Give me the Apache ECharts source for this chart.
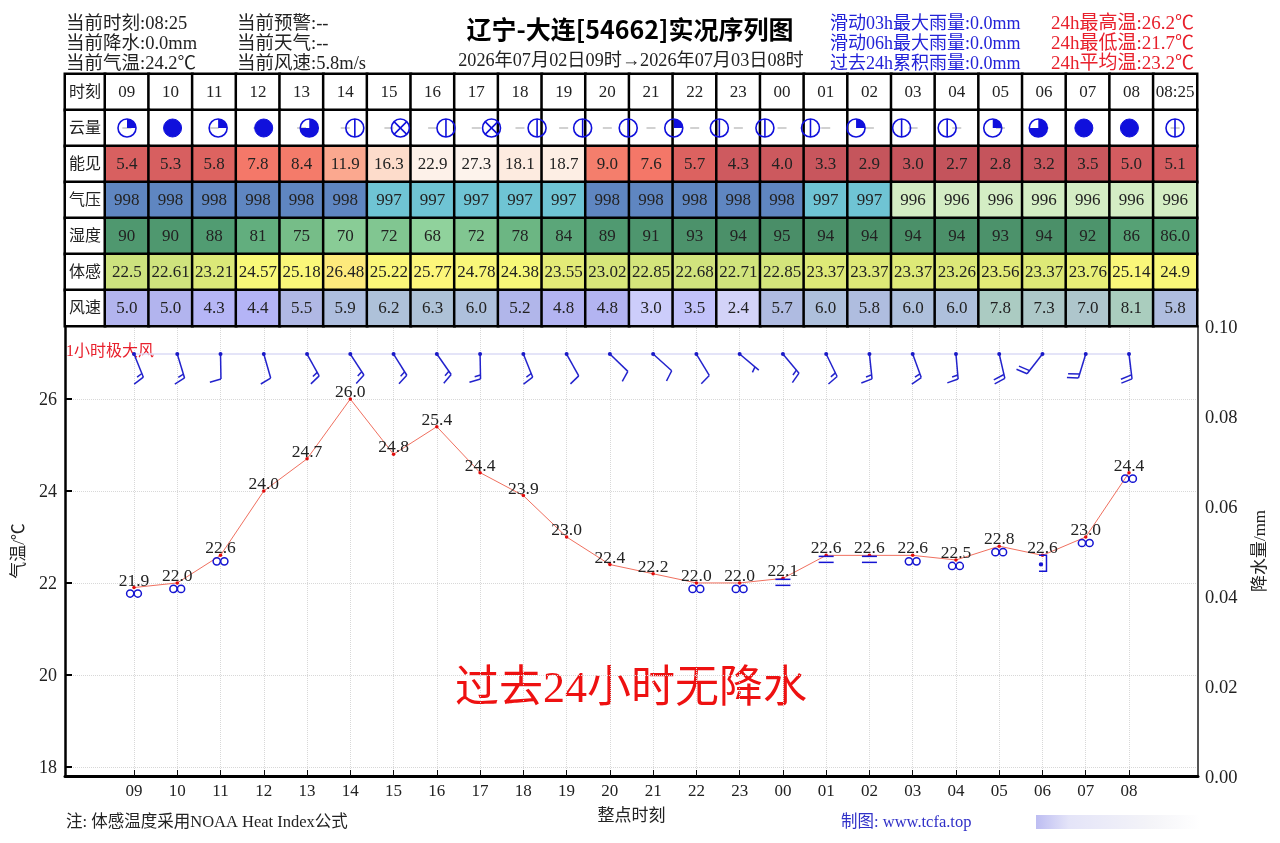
<!DOCTYPE html>
<html>
<head>
<meta charset="utf-8">
<title>辽宁-大连[54662]实况序列图</title>
<script src="https://cdn.jsdelivr.net/npm/echarts@6/dist/echarts.min.js"></script>
<style>html,body{margin:0;padding:0;background:#fff}#chart{width:1280px;height:843px}</style>
</head>
<body>
<div id="chart"></div>
<script>
// Hourly observation series for the station
const hours = ['09','10','11','12','13','14','15','16','17','18','19','20','21','22','23','00','01','02','03','04','05','06','07','08'];
const latestTime = '08:25';
const temperature = [21.9,22.0,22.6,24.0,24.7,26.0,24.8,25.4,24.4,23.9,23.0,22.4,22.2,22.0,22.0,22.1,22.6,22.6,22.6,22.5,22.8,22.6,23.0,24.4];
const rainfall = [0,0,0,0,0,0,0,0,0,0,0,0,0,0,0,0,0,0,0,0,0,0,0,0];
// Last entry of each table row is the latest reading
const visibility = [5.4,5.3,5.8,7.8,8.4,11.9,16.3,22.9,27.3,18.1,18.7,9.0,7.6,5.7,4.3,4.0,3.3,2.9,3.0,2.7,2.8,3.2,3.5,5.0,5.1];
const pressure = [998,998,998,998,998,998,997,997,997,997,997,998,998,998,998,998,997,997,996,996,996,996,996,996,996];
const humidity = [90,90,88,81,75,70,72,68,72,78,84,89,91,93,94,95,94,94,94,94,93,94,92,86,86];
const feelsLike = [22.5,22.61,23.21,24.57,25.18,26.48,25.22,25.77,24.78,24.38,23.55,23.02,22.85,22.68,22.71,22.85,23.37,23.37,23.37,23.26,23.56,23.37,23.76,25.14,24.9];
const windSpeed = [5.0,5.0,4.3,4.4,5.5,5.9,6.2,6.3,6.0,5.2,4.8,4.8,3.0,3.5,2.4,5.7,6.0,5.8,6.0,6.0,7.8,7.3,7.0,8.1,5.8];
// Bearing of the wind staff from its station dot, degrees clockwise from north
const windBearing = [158,163,179,164,151,147,148,145,179,158,151,134,132,149,130,140,154,174,160,175,167,218,197,173];
const cloudCover = ['quarter','full','quarter','full','most','half','cross','half','cross','half','half','half','quarter','half','half','half','quarter','half','half','quarter','most','full','full','half'];
const weather = ['ring','ring','ring',null,null,null,null,null,null,null,null,null,null,'ring','ring','fog','fog','fog','ring','ring','ring','shower','ring','ring'];

const rowNames = ['时刻','云量','能见','气压','湿度','体感','风速'];
const infoLines = [['当前时刻:08:25','当前降水:0.0mm','当前气温:24.2℃'],['当前预警:--','当前天气:--','当前风速:5.8m/s']];
const rainLines = ['滑动03h最大雨量:0.0mm','滑动06h最大雨量:0.0mm','过去24h累积雨量:0.0mm'];
const tempLines = ['24h最高温:26.2℃','24h最低温:21.7℃','24h平均温:23.2℃'];

const SERIF = '"Liberation Serif","Noto Sans CJK SC",serif';
const BLUE = '#1010dc';
const WIND_LEVEL = 26.98;

// Colour ramps for the table rows: [value, colour] stops
const ramps = {
  vis: [[2.7,'#c4545c'],[5,'#d35c60'],[5.8,'#dd6360'],[7.6,'#f47768'],[9,'#f47e6c'],[11.9,'#fba88f'],[16.3,'#fddccb'],[18.4,'#fdeee4'],[25,'#fdf3ec']],
  pres: [[996,'#d4edc4'],[997,'#6fc4d4'],[998,'#5f86c1']],
  hum: [[68,'#90d29c'],[75,'#76bd88'],[81,'#62ae7e'],[88,'#519c72'],[95,'#4a8e68']],
  feel: [[22.5,'#cde27e'],[23.4,'#dfe977'],[24.4,'#f7f878'],[25.8,'#fdf67a'],[26.48,'#fdea7c']],
  wind: [[2.4,'#d3d3f8'],[3,'#cccdfb'],[3.5,'#c2c2fa'],[4.4,'#b4b4f6'],[5,'#b2b4ee'],[5.5,'#b0b8e4'],[6,'#aec0dc'],[7,'#aec6cc'],[8.1,'#aacdbe']]
};
function rampColor(stops, v) {
  if (v <= stops[0][0]) return stops[0][1];
  for (let i = 1; i < stops.length; i++) {
    if (v <= stops[i][0]) {
      const t = (v - stops[i-1][0]) / (stops[i][0] - stops[i-1][0]);
      return echarts.color.lerp(t, [stops[i-1][1], stops[i][1]]);
    }
  }
  return stops[stops.length-1][1];
}

// Table cells: one heatmap datum per column and row, the printed text kept beside it
const tableColumns = hours.concat(latestTime);
const tableCells = [];
function addRow(row, values, ramp, fmt) {
  values.forEach((v, c) => tableCells.push({
    value: [c, row, 1],
    cellText: fmt(v, c),
    itemStyle: { color: ramp ? rampColor(ramp, v) : '#fff' }
  }));
}
const oneDecimal = v => v.toFixed(1);
addRow(0, tableColumns, null, v => v);
addRow(1, tableColumns, null, () => '');
addRow(2, visibility, ramps.vis, oneDecimal);
addRow(3, pressure, ramps.pres, String);
addRow(4, humidity, ramps.hum, (v, c) => c === humidity.length - 1 ? v.toFixed(1) : String(v));
addRow(5, feelsLike, ramps.feel, v => String(v));
addRow(6, windSpeed, ramps.wind, oneDecimal);

const cellLine = { borderColor: '#000', borderWidth: 2.5 };

// Sky-cover glyph
function renderCloud(params, api) {
  const [cx, cy] = api.coord([api.value(0), 0.5]);
  const kind = cloudCover[params.dataIndex];
  const r = 9;
  const stroke = { stroke: BLUE, lineWidth: 1.6, fill: null };
  const kids = [];
  if (kind === 'full') {
    kids.push({ type: 'circle', shape: { cx, cy, r }, style: { fill: BLUE, stroke: BLUE } });
  } else {
    kids.push({ type: 'circle', shape: { cx, cy, r }, style: { fill: 'rgba(255,255,255,0)', stroke: BLUE, lineWidth: 1.6 } });
    if (kind === 'quarter' || kind === 'most') {
      kids.push({ type: 'sector', shape: { cx, cy, r, r0: 0, startAngle: -Math.PI / 2, endAngle: kind === 'quarter' ? 0 : Math.PI, clockwise: true }, style: { fill: BLUE } });
    } else if (kind === 'half') {
      kids.push({ type: 'line', shape: { x1: cx, y1: cy - r, x2: cx, y2: cy + r }, style: stroke });
    } else if (kind === 'cross') {
      const d = r * 0.71;
      kids.push({ type: 'line', shape: { x1: cx - d, y1: cy - d, x2: cx + d, y2: cy + d }, style: stroke });
      kids.push({ type: 'line', shape: { x1: cx - d, y1: cy + d, x2: cx + d, y2: cy - d }, style: stroke });
    }
  }
  return { type: 'group', children: kids };
}

// Wind barb: long feather 4 m/s, short feather 2 m/s
function renderBarb(params, api) {
  const [bx, by] = api.coord([api.value(0), WIND_LEVEL]);
  const a = api.value(1) * Math.PI / 180;
  const dir = [Math.sin(a), -Math.cos(a)];
  const staff = 25;
  const tip = [bx + dir[0] * staff, by + dir[1] * staff];
  const fa = a - Math.PI / 2 + 75 * Math.PI / 180;
  const feather = [Math.cos(fa), Math.sin(fa)];
  const style = { stroke: '#2222cc', lineWidth: 1.5, fill: null };
  const kids = [
    { type: 'line', shape: { x1: bx, y1: by, x2: tip[0], y2: tip[1] }, style },
    { type: 'circle', shape: { cx: bx, cy: by, r: 2 }, style: { fill: '#1a1ac8' } }
  ];
  let halves = Math.round(api.value(2) / 2);
  let pos = 0;
  if (halves === 1) pos = 5;
  while (halves > 0) {
    const len = halves >= 2 ? 11.5 : 6;
    const sx = tip[0] - dir[0] * pos, sy = tip[1] - dir[1] * pos;
    kids.push({ type: 'line', shape: { x1: sx, y1: sy, x2: sx + feather[0] * len, y2: sy + feather[1] * len }, style });
    halves -= 2;
    pos += 4;
  }
  return { type: 'group', children: kids };
}

// Present-weather glyph under the temperature point
function renderWeather(params, api) {
  const [x, y] = api.coord([api.value(0), api.value(1)]);
  const kind = weather[params.dataIndex];
  const style = { stroke: '#1414d2', lineWidth: 1.5, fill: null };
  if (kind === 'ring') {
    return { type: 'group', children: [
      { type: 'circle', shape: { cx: x - 3.8, cy: y + 6, r: 3.6 }, style },
      { type: 'circle', shape: { cx: x + 3.8, cy: y + 6, r: 3.6 }, style }
    ]};
  }
  if (kind === 'fog') {
    return { type: 'group', children: [
      { type: 'line', shape: { x1: x - 7.5, y1: y + 1, x2: x + 7.5, y2: y + 1 }, style },
      { type: 'line', shape: { x1: x - 7.5, y1: y + 7, x2: x + 7.5, y2: y + 7 }, style }
    ]};
  }
  if (kind === 'shower') {
    return { type: 'group', children: [
      { type: 'polyline', shape: { points: [[x - 3.5, y], [x + 4, y], [x + 4, y + 16], [x - 3.5, y + 16]] }, style },
      { type: 'circle', shape: { cx: x - 1.5, cy: y + 9, r: 2.2 }, style: { fill: '#1414d2' } }
    ]};
  }
  return null;
}

function textAt(x, y, text, size, fill, extra) {
  return { type: 'text', x, y, silent: true, style: Object.assign({
    text, fill, font: size + 'px ' + SERIF, verticalAlign: 'middle', align: 'left'
  }, extra || {}) };
}

const headerTexts = [];
[24.5, 44.5, 64.5].forEach((y, i) => {
  headerTexts.push(textAt(66, y, infoLines[0][i], 18.5, '#222'));
  headerTexts.push(textAt(237, y, infoLines[1][i], 18.5, '#222'));
  headerTexts.push(textAt(830, y, rainLines[i], 18, '#2222d8'));
  headerTexts.push(textAt(1051, y, tempLines[i], 19, '#e8202c'));
});

const option = {
  backgroundColor: '#fff',
  animation: false,
  grid: [
    { left: 65, top: 326, width: 1133, height: 450 },
    { left: 65, top: 74, width: 40, height: 252 },
    { left: 105, top: 74, width: 1092, height: 252 },
    { left: 127, top: 110, width: 1048, height: 36 }
  ],
  xAxis: [
    {
      type: 'value', gridIndex: 0, min: -1.595, max: 24.595,
      name: '整点时刻', nameLocation: 'middle', nameGap: 32,
      nameTextStyle: { fontFamily: SERIF, fontSize: 17, color: '#222' },
      axisLine: { onZero: false, lineStyle: { color: '#000', width: 3 } },
      axisTick: { inside: true, length: 6, lineStyle: { color: '#111', width: 1 }, customValues: hours.map((h, i) => i) },
      axisLabel: { margin: 7, fontFamily: SERIF, fontSize: 17, color: '#222', customValues: hours.map((h, i) => i), formatter: v => hours[v] },
      splitLine: { show: true, lineStyle: { color: '#d8d8d8', type: 'dotted', width: 1 } }
    },
    { type: 'category', gridIndex: 1, data: [''], show: false },
    { type: 'category', gridIndex: 2, data: tableColumns, show: false },
    { type: 'value', gridIndex: 3, min: 0, max: 23, show: false }
  ],
  yAxis: [
    {
      type: 'value', gridIndex: 0, min: 17.8, max: 27.59,
      name: '气温/℃', nameLocation: 'middle', nameGap: 32, nameRotate: 90,
      nameTextStyle: { fontFamily: SERIF, fontSize: 17, color: '#222' },
      axisLine: { show: true, onZero: false, lineStyle: { color: '#000', width: 2.5 } },
      axisTick: { show: true, inside: true, length: 7, lineStyle: { color: '#000', width: 2 }, customValues: [18,20,22,24,26] },
      axisLabel: { margin: 8, verticalAlign: 'top', lineHeight: 2, fontFamily: SERIF, fontSize: 18, color: '#222', customValues: [18,20,22,24,26], formatter: v => String(v) },
      splitLine: { show: true, lineStyle: { color: '#d8d8d8', type: 'dotted', width: 1 } }
    },
    {
      type: 'value', gridIndex: 0, position: 'right', min: 0, max: 0.1, interval: 0.02,
      name: '降水量/mm', nameLocation: 'middle', nameGap: 54, nameRotate: 90,
      nameTextStyle: { fontFamily: SERIF, fontSize: 17, color: '#222' },
      axisLine: { show: true, onZero: false, lineStyle: { color: '#555', width: 2 } },
      axisTick: { show: false },
      axisLabel: { margin: 7, verticalAlign: 'top', lineHeight: 4, fontFamily: SERIF, fontSize: 18.5, color: '#222', formatter: v => v.toFixed(2) },
      splitLine: { show: false }
    },
    { type: 'category', gridIndex: 1, data: rowNames, inverse: true, show: false },
    { type: 'category', gridIndex: 2, data: rowNames, inverse: true, show: false },
    { type: 'value', gridIndex: 3, min: 0, max: 1, show: false }
  ],
  series: [
    {
      name: '降水量', type: 'bar', xAxisIndex: 0, yAxisIndex: 1, barWidth: 20,
      data: rainfall.map((v, i) => [i, v]), itemStyle: { color: '#2ca02c' }
    },
    {
      name: '风向基线', type: 'line', xAxisIndex: 0, yAxisIndex: 0, symbol: 'none', silent: true,
      data: hours.map((h, i) => [i, WIND_LEVEL]), lineStyle: { color: '#dcdcf6', width: 1.5 }, z: 2
    },
    {
      name: '气温', type: 'line', xAxisIndex: 0, yAxisIndex: 0, symbol: 'circle', symbolSize: 3.5, showAllSymbol: true,
      data: temperature.map((v, i) => [i, v]),
      lineStyle: { color: '#f0705f', width: 1 }, itemStyle: { color: '#e00c0c' },
      label: { show: true, position: 'top', distance: -4, fontFamily: SERIF, fontSize: 17.5, color: '#222', formatter: p => p.value[1].toFixed(1) },
      z: 4
    },
    {
      name: '天气现象', type: 'custom', xAxisIndex: 0, yAxisIndex: 0, renderItem: renderWeather, z: 5, clip: false,
      data: temperature.map((v, i) => [i, v])
    },
    {
      name: '风', type: 'custom', xAxisIndex: 0, yAxisIndex: 0, renderItem: renderBarb, z: 5, clip: false,
      data: windBearing.map((b, i) => [i, b, windSpeed[i]])
    },
    {
      name: '行名', type: 'heatmap', xAxisIndex: 1, yAxisIndex: 2,
      data: rowNames.map((n, r) => ({ value: [0, r, 1], cellText: n })),
      itemStyle: { color: '#fff', ...cellLine },
      label: { show: true, offset: [0, 1], fontFamily: SERIF, fontSize: 16, color: '#222', formatter: p => p.data.cellText },
      emphasis: { disabled: true }
    },
    {
      name: '实况表', type: 'heatmap', xAxisIndex: 2, yAxisIndex: 3,
      data: tableCells,
      itemStyle: cellLine,
      label: { show: true, offset: [0, 1], fontFamily: SERIF, fontSize: 17, color: '#222', formatter: p => p.data.cellText },
      emphasis: { disabled: true }
    },
    {
      name: '云量刻线', type: 'scatter', xAxisIndex: 2, yAxisIndex: 3, symbol: 'rect', symbolSize: [9, 1.3], z: 5, silent: true,
      data: tableColumns.map(t => [t, '云量']), itemStyle: { color: '#a8a8a8' }
    },
    {
      name: '云量', type: 'custom', xAxisIndex: 3, yAxisIndex: 4, renderItem: renderCloud, z: 6, clip: false,
      data: cloudCover.map((k, i) => [i, 0.5])
    }
  ],
  graphic: {
    elements: headerTexts.concat([
      textAt(630, 29, '辽宁-大连[54662]实况序列图', 25, '#000', { align: 'center', font: 'bold 25px "Noto Sans CJK SC",sans-serif' }),
      textAt(631, 61, '2026年07月02日09时→2026年07月03日08时', 18.2, '#222', { align: 'center' }),
      textAt(66, 352, '1小时极大风', 16, '#e8202c'),
      textAt(631, 690, '过去24小时无降水', 44, '#ee1111', { align: 'center' }),
      textAt(66, 823, '注: 体感温度采用NOAA Heat Index公式', 16.5, '#222'),
      textAt(841, 823, '制图: www.tcfa.top', 16.5, '#3030c8'),
      { type: 'rect', x: 1036, y: 815, silent: true, shape: { width: 164, height: 14 }, style: {
        fill: { type: 'linear', x: 0, y: 0, x2: 1, y2: 0, colorStops: [
          { offset: 0, color: '#bdbdf2' }, { offset: 0.2, color: '#e4e4f8' }, { offset: 0.7, color: '#f4f4f8' }, { offset: 1, color: '#ffffff' }
        ] }
      } }
    ])
  }
};

echarts.init(document.getElementById('chart'), null, { renderer: 'canvas' }).setOption(option);
</script>
</body>
</html>
